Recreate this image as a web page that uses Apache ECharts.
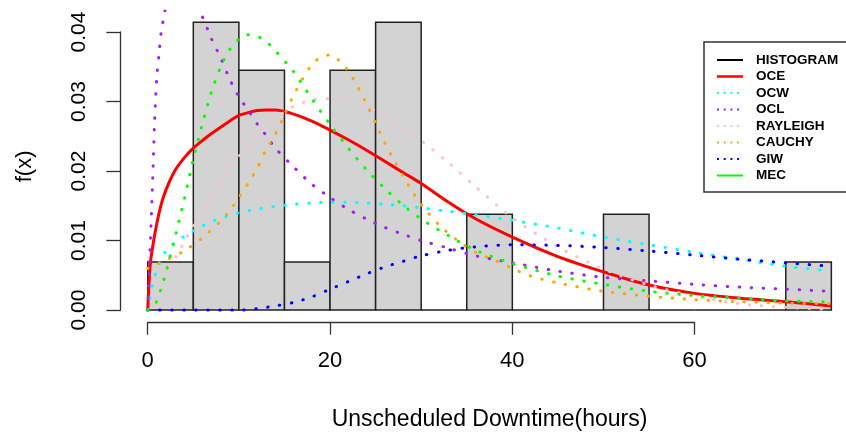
<!DOCTYPE html>
<html>
<head>
<meta charset="utf-8">
<script src="https://cdn.jsdelivr.net/npm/echarts@6/dist/echarts.min.js"></script>
<style>
html, body { margin: 0; padding: 0; background: #fff; }
#main { width: 846px; height: 435px; }
</style>
</head>
<body>
<div id="main"></div>
<script>
// histogram: bin edges (hours) and density of each bin
var binEdges = [0, 5, 10, 15, 20, 25, 30, 35, 40, 45, 50, 55, 60, 65, 70, 75];
var histDensity = [0.0069, 0.0414, 0.0345, 0.0069, 0.0345, 0.0414, 0, 0.0138, 0, 0, 0.0138, 0, 0, 0, 0.0069];

// fitted densities
var oceX = [0, 0.25, 0.5, 1, 1.5, 2, 3, 4, 5, 6, 7, 8, 9, 10, 11, 12, 13, 14, 16, 18, 20, 22, 24, 26, 28, 30, 33, 36, 40, 45, 50, 55, 60, 65, 70, 75];
var oceY = [0, 0.0062, 0.0088, 0.0125, 0.0153, 0.0173, 0.0201, 0.0219, 0.0233, 0.0244, 0.0254, 0.0263, 0.0272, 0.028, 0.0284, 0.0287, 0.0288, 0.0288, 0.0282, 0.0272, 0.0259, 0.0245, 0.023, 0.0214, 0.0198, 0.0182, 0.0155, 0.0131, 0.0105, 0.0077, 0.0055, 0.0036, 0.0024, 0.0017, 0.0012, 0.0006];

var ocwX = [0, 0.5, 1, 1.5, 2, 3, 4, 5, 6, 7, 8, 9, 10, 12, 14, 16, 18, 20, 22, 24, 26, 28, 30, 33, 36, 40, 45, 50, 55, 60, 65, 70, 75];
var ocwY = [0, 0.0035, 0.0058, 0.0074, 0.0085, 0.0097, 0.0106, 0.0114, 0.0121, 0.0127, 0.0132, 0.0136, 0.014, 0.0145, 0.0149, 0.0152, 0.0154, 0.0155, 0.0155, 0.0154, 0.0152, 0.015, 0.0147, 0.0142, 0.0137, 0.0129, 0.0118, 0.0105, 0.0094, 0.0083, 0.0073, 0.0063, 0.0056];

var oclX = [0, 0.25, 0.5, 0.75, 1, 1.25, 1.5, 1.75, 2, 2.5, 3, 3.5, 4, 4.5, 5, 5.5, 6, 7, 8, 9, 10, 11, 12, 13, 14, 16, 18, 20, 22, 24, 26, 28, 30, 33, 36, 40, 45, 50, 55, 60, 65, 70, 75];
var oclY = [0, 0.0085, 0.017, 0.027, 0.0336, 0.037, 0.0403, 0.042, 0.0438, 0.0455, 0.0464, 0.0468, 0.0466, 0.0458, 0.0447, 0.0435, 0.0422, 0.039, 0.0363, 0.0332, 0.0307, 0.0288, 0.0268, 0.0251, 0.0233, 0.0206, 0.0181, 0.0162, 0.0145, 0.0131, 0.0119, 0.0109, 0.01, 0.0089, 0.0078, 0.0068, 0.0056, 0.0047, 0.0042, 0.0037, 0.0033, 0.003, 0.0027];

var rayX = [0, 1, 2, 3, 4, 5, 6, 7, 8, 9, 10, 11, 12, 13, 14, 16, 18, 20, 22, 24, 26, 28, 30, 33, 36, 40, 45, 50, 55, 60, 65, 70, 75];
var rayY = [0, 0.0025, 0.005, 0.0074, 0.0098, 0.0121, 0.0143, 0.0164, 0.0185, 0.0204, 0.0221, 0.0237, 0.0252, 0.0265, 0.0276, 0.0293, 0.0302, 0.0304, 0.0301, 0.0293, 0.0279, 0.0263, 0.0244, 0.0212, 0.0177, 0.0133, 0.0091, 0.0059, 0.0036, 0.002, 0.0009, 0.0004, 0.0001];

var cauX = [0, 2, 4, 6, 8, 9, 10, 11, 12, 13, 14, 15, 16, 17, 18, 19, 20, 21, 22, 23, 24, 25, 26, 27, 28, 29, 30, 32, 34, 36, 38, 40, 42, 45, 50, 55, 60, 65, 70, 75];
var cauY = [0.006, 0.0072, 0.0085, 0.0104, 0.0128, 0.0143, 0.0162, 0.0182, 0.0204, 0.0231, 0.0253, 0.0281, 0.0309, 0.0333, 0.0353, 0.0364, 0.0367, 0.0359, 0.0344, 0.0322, 0.0297, 0.0269, 0.0241, 0.0216, 0.0193, 0.0171, 0.0152, 0.0122, 0.01, 0.0083, 0.0072, 0.006, 0.0049, 0.0039, 0.0027, 0.002, 0.0015, 0.0012, 0.001, 0.0009];

var giwX = [0, 5, 10, 12, 14, 16, 18, 20, 22, 24, 26, 28, 30, 33, 36, 40, 45, 50, 55, 60, 65, 70, 75];
var giwY = [0, 0, 0, 0.0002, 0.0006, 0.0011, 0.0019, 0.003, 0.0041, 0.0052, 0.0062, 0.007, 0.0078, 0.0086, 0.0091, 0.0094, 0.0093, 0.009, 0.0085, 0.0079, 0.0073, 0.0068, 0.0063];

var mecX = [0, 0.5, 1, 1.5, 2, 3, 4, 5, 6, 7, 8, 9, 10, 11, 12, 13, 14, 16, 18, 20, 22, 24, 26, 28, 30, 33, 36, 40, 45, 50, 55, 60, 65, 70, 75];
var mecY = [0, 0.0003, 0.0013, 0.0032, 0.0054, 0.0105, 0.0159, 0.0217, 0.0268, 0.0314, 0.035, 0.0375, 0.039, 0.0396, 0.0394, 0.0386, 0.0373, 0.0343, 0.0304, 0.0267, 0.0233, 0.0202, 0.0175, 0.0151, 0.0131, 0.0107, 0.0086, 0.0067, 0.0049, 0.0037, 0.0027, 0.0021, 0.0017, 0.0013, 0.0012];

// axis ticks
var xTicks = [0, 20, 40, 60];
var yTicks = [0, 0.01, 0.02, 0.03, 0.04];

var legendNames = ['HISTOGRAM', 'OCE', 'OCW', 'OCL', 'RAYLEIGH', 'CAUCHY', 'GIW', 'MEC'];
var legendColors = ['#000000', '#FF0000', '#00FFFF', '#A020F0', '#FFC0CB', '#FFA500', '#0000FF', '#00FF00'];

var FONT = 'Liberation Sans, Arial, sans-serif';
var AXIS_COLOR = '#333';

function pairs(xs, ys) {
  return xs.map(function (x, i) { return [x, ys[i]]; });
}

function curve(name, xs, ys, color, dotted) {
  return {
    name: name,
    type: 'line',
    xAxisIndex: 0,
    yAxisIndex: 0,
    data: pairs(xs, ys),
    symbol: 'none',
    showSymbol: false,
    smooth: 0.3,
    clip: true,
    silent: true,
    z: 3,
    lineStyle: dotted
      ? { color: color, width: 3, type: [0.5, 11.5], cap: 'round' }
      : { color: color, width: 3 }
  };
}

var histData = histDensity.map(function (d, i) { return [binEdges[i], binEdges[i + 1], d]; });

// legend box (drawn as graphic, R style)
var legendGraphic = [{
  type: 'rect',
  shape: { x: 704, y: 42, width: 170, height: 150 },
  style: { fill: '#fff', stroke: '#333', lineWidth: 1.5 },
  z: 100
}];
legendNames.forEach(function (n, i) {
  var y = 60 + i * 16.5;
  var solid = (n === 'HISTOGRAM' || n === 'OCE' || n === 'MEC');
  legendGraphic.push({
    type: 'line',
    shape: { x1: 717, y1: y, x2: 743, y2: y },
    style: {
      stroke: legendColors[i],
      lineWidth: n === 'OCE' ? 2.5 : 2,
      lineDash: solid ? null : [2, 4.7]
    },
    z: 101
  });
  legendGraphic.push({
    type: 'text',
    x: 756,
    y: y,
    style: {
      text: n,
      fill: '#000',
      font: 'bold 13.5px ' + FONT,
      textAlign: 'left',
      textVerticalAlign: 'middle'
    },
    z: 101
  });
});

var chart = echarts.init(document.getElementById('main'), null, { renderer: 'canvas' });

chart.setOption({
  backgroundColor: '#fff',
  animation: false,
  textStyle: { fontFamily: FONT, color: '#000' },
  grid: [
    // plot region (R usr with 4% extension)
    { left: 120.4, top: 11.2, width: 738.3, height: 310.4, outerBoundsMode: 'none', containLabel: false },
    // x axis carrier
    { left: 147.7, top: 302.7, width: 546.9, height: 20, outerBoundsMode: 'none', containLabel: false },
    // y axis carrier
    { left: 120.4, top: 32, width: 10, height: 278, outerBoundsMode: 'none', containLabel: false }
  ],
  xAxis: [
    {
      gridIndex: 0, type: 'value', min: -3, max: 78,
      axisLine: { show: false }, axisTick: { show: false }, axisLabel: { show: false }, splitLine: { show: false },
      name: 'Unscheduled Downtime(hours)', nameLocation: 'middle', nameGap: 87,
      nameTextStyle: { fontSize: 23, color: '#000', fontFamily: FONT }
    },
    {
      gridIndex: 1, type: 'value', min: xTicks[0], max: xTicks[xTicks.length - 1], interval: xTicks[1] - xTicks[0],
      axisLine: { show: true, onZero: false, lineStyle: { color: AXIS_COLOR, width: 1.3 } },
      axisTick: { show: true, length: 12, lineStyle: { color: AXIS_COLOR, width: 1.3 } },
      axisLabel: { fontSize: 22, color: '#000', margin: 27, fontFamily: FONT },
      splitLine: { show: false }
    },
    { gridIndex: 2, type: 'value', show: false, min: 0, max: 1 }
  ],
  yAxis: [
    {
      gridIndex: 0, type: 'value', min: -0.00166, max: 0.043,
      axisLine: { show: false }, axisTick: { show: false }, axisLabel: { show: false }, splitLine: { show: false },
      name: 'f(x)', nameLocation: 'middle', nameRotate: 90, nameGap: 84,
      nameTextStyle: { fontSize: 22, color: '#000', fontFamily: FONT }
    },
    { gridIndex: 1, type: 'value', show: false, min: 0, max: 1 },
    {
      gridIndex: 2, type: 'value', position: 'left',
      min: yTicks[0], max: yTicks[yTicks.length - 1], interval: yTicks[1] - yTicks[0],
      axisLine: { show: true, onZero: false, lineStyle: { color: AXIS_COLOR, width: 1.3 } },
      axisTick: { show: true, length: 14, lineStyle: { color: AXIS_COLOR, width: 1.3 } },
      axisLabel: {
        fontSize: 21, color: '#000', margin: 30.5, rotate: 90, fontFamily: FONT,
        formatter: function (v) { return v.toFixed(2); }
      },
      splitLine: { show: false }
    }
  ],
  series: [
    {
      name: 'HISTOGRAM',
      type: 'custom',
      xAxisIndex: 0,
      yAxisIndex: 0,
      data: histData,
      silent: true,
      z: 1,
      renderItem: function (params, api) {
        var p0 = api.coord([api.value(0), api.value(2)]);
        var p1 = api.coord([api.value(1), 0]);
        return {
          type: 'rect',
          shape: { x: p0[0], y: p0[1], width: p1[0] - p0[0], height: p1[1] - p0[1] },
          style: { fill: '#D3D3D3', stroke: '#222', lineWidth: 1.5 }
        };
      }
    },
    curve('OCE', oceX, oceY, legendColors[1], false),
    curve('OCW', ocwX, ocwY, legendColors[2], true),
    curve('OCL', oclX, oclY, legendColors[3], true),
    curve('RAYLEIGH', rayX, rayY, legendColors[4], true),
    curve('CAUCHY', cauX, cauY, legendColors[5], true),
    curve('GIW', giwX, giwY, legendColors[6], true),
    curve('MEC', mecX, mecY, legendColors[7], true)
  ],
  graphic: legendGraphic
});
</script>
</body>
</html>
